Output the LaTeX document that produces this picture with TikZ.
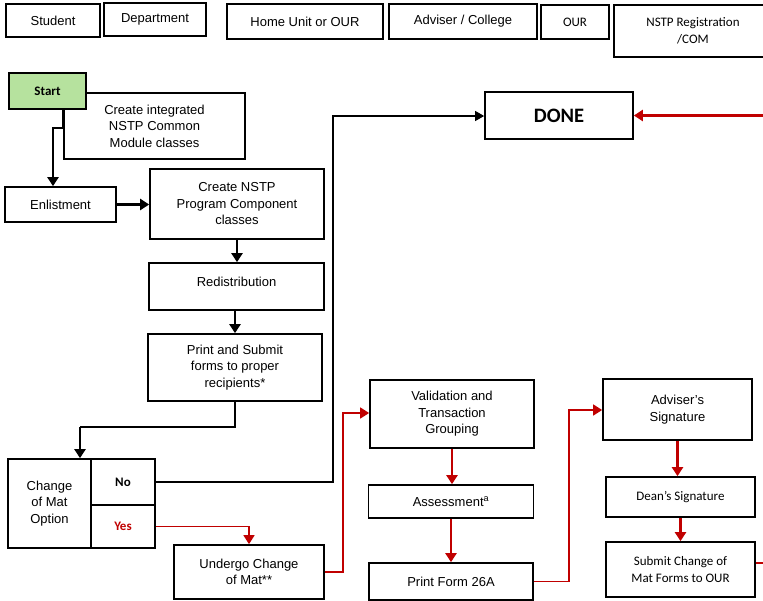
\documentclass[tikz,border=0pt]{standalone}
\usepackage{fontspec}
\setmainfont{Liberation Sans}
\newfontfamily\calibri{Carlito}
\usetikzlibrary{arrows.meta}
\definecolor{startgreen}{RGB}{182,226,158}
\definecolor{flowred}{RGB}{192,0,0}

\begin{document}
\begin{tikzpicture}[x=1pt, y=-1pt,
        every node/.style={font=\fontsize{13}{16.5}\selectfont},
        cal_font/.style={font=\calibri\fontsize{13}{16.5}\selectfont},
        head_box/.style={draw=black, line width=1.4pt, inner sep=0pt, align=center},
        flow_box/.style={draw=black, line width=1.7pt, inner sep=0pt, align=center},
        black_arrow/.style={draw=black, line width=2.8pt, -{Triangle[width=11pt,length=9pt]}},
        thin_arrow/.style={draw=black, line width=1.2pt, -{Triangle[width=10pt,length=9pt]}},
        red_arrow/.style={draw=flowred, line width=2.8pt, -{Triangle[width=11pt,length=9pt]}},
        red_link/.style={draw=flowred, line width=1.5pt, -{Triangle[width=11pt,length=9pt]}}
        ]
            \useasboundingbox (0,0) rectangle (763,600);
            \clip (0,0) rectangle (763,600);

            % header
            \node[head_box, minimum width=94pt,  minimum height=33pt] (student)  at (53,20.5)  {Student};
            \node[head_box, minimum width=102pt, minimum height=33pt] (dept)     at (155,19.5) {Department};
            \node[head_box, minimum width=156pt, minimum height=35pt] (home)     at (305,21.5) {Home Unit or OUR};
            \node[head_box, minimum width=148pt, minimum height=35pt] (advcol)   at (463,21.5) {Adviser / College};
            \node[head_box, cal_font, minimum width=68pt, minimum height=34pt] (our) at (575,22) {OUR};
            \node[head_box, cal_font, minimum width=158pt, minimum height=52pt] (nstpreg) at (693,31) {NSTP Registration\\/COM};

            % black flow
            \node[flow_box, minimum width=181pt, minimum height=66pt] (cimc)    at (154.5,126) {Create integrated\\NSTP Common\\Module classes};
            \node[flow_box, cal_font, fill=startgreen, minimum width=77pt, minimum height=36pt] (start) at (47.5,91) {\textbf{Start}};
            \node[flow_box, minimum width=111pt, minimum height=35pt] (enlist)  at (60.5,204.5) {Enlistment};
            \node[flow_box, minimum width=174pt, minimum height=70pt] (cnpc)    at (237,204)    {Create NSTP\\Program Component\\classes};
            \node[flow_box, minimum width=175pt, minimum height=47pt] (redist)  at (236.5,286.5) {\raisebox{9pt}{Redistribution}};
            \node[flow_box, minimum width=174pt, minimum height=67pt] (printsub) at (235,367.5) {Print and Submit\\forms to proper\\recipients*};
            % option
            \node[flow_box, minimum width=83pt, minimum height=89pt] (cmo) at (49.5,503.5) {Change\\of Mat\\Option};
            \node[flow_box, cal_font, minimum width=64pt, minimum height=46pt] (no)  at (123,482)   {\textbf{No}};
            \node[flow_box, cal_font, minimum width=64pt, minimum height=43pt] (yes) at (123,526.5) {\textbf{\color{flowred}Yes}};
            \node[flow_box, font=\calibri\bfseries\fontsize{20.5}{24}\selectfont, minimum width=148pt, minimum height=47pt] (done) at (559,115.5) {DONE};

            % red flow
            \node[flow_box, minimum width=150pt, minimum height=54pt] (undergo) at (249,572)    {Undergo Change\\of Mat**};
            \node[flow_box, minimum width=164pt, minimum height=68pt] (valid)   at (452,414)    {Validation and\\Transaction\\Grouping};
            \node[flow_box, minimum width=165pt, minimum height=33pt] (assess)  at (451,501.5)  {Assessment\textsuperscript{a}};
            \node[flow_box, minimum width=164pt, minimum height=37pt] (print26) at (451,581.5)  {Print Form 26A};
            \node[flow_box, minimum width=149pt, minimum height=61pt] (adviser) at (677.5,409.5) {Adviser's\\Signature};
            \node[flow_box, cal_font, minimum width=149pt, minimum height=40pt] (dean)   at (680.5,497)   {Dean’s Signature};
            \node[flow_box, cal_font, minimum width=149pt, minimum height=55pt] (submit) at (680.5,569.5) {Submit Change of\\Mat Forms to OUR};

            % junctions
            \coordinate (j1) at (53,128);
            \coordinate (j2) at (80,427);
            \coordinate (j3) at (333,116);
            \coordinate (j4) at (343,413);
            \coordinate (j5) at (569,410);
            \coordinate (r1) at (766,115.5);
            \coordinate (r2) at (766,563);

            % Lines
            \draw[black_arrow] (start.south -| cimc.west) |- (j1) -- (j1 |- enlist.north);
            \draw[black_arrow] (enlist.east) -- (enlist.east -| cnpc.west);
            \draw[black_arrow] (cnpc.south) -- (cnpc.south |- redist.north);
            \draw[black_arrow] (printsub.north |- redist.south) -- (printsub.north);
            \draw[draw=black, line width=1.4pt] (printsub.south) |- (j2);
            \draw[black_arrow] (j2) -- (j2 |- cmo.north);
            \draw[thin_arrow] (no.east) -| (j3) -- (j3 -| done.west);
            \draw[red_arrow] (r1) -- (done.east);
            % change of mat
            \draw[red_link] (yes.east) -| (undergo.north);
            \draw[red_link] (undergo.east) -| (j4) -- (j4 -| valid.west);
            \draw[red_arrow] (valid.south) -- (valid.south |- assess.north);
            \draw[red_arrow] (assess.south) -- (assess.south |- print26.north);
            \draw[red_link] (print26.east) -| (j5) -- (j5 -| adviser.west);
            \draw[red_arrow] (adviser.south) -- (adviser.south |- dean.north);
            \draw[red_arrow] (dean.south) -- (submit.north);
            \draw[draw=flowred, line width=1.5pt] (submit.east |- r2) -- (r2);
        \end{tikzpicture}
\end{document}
